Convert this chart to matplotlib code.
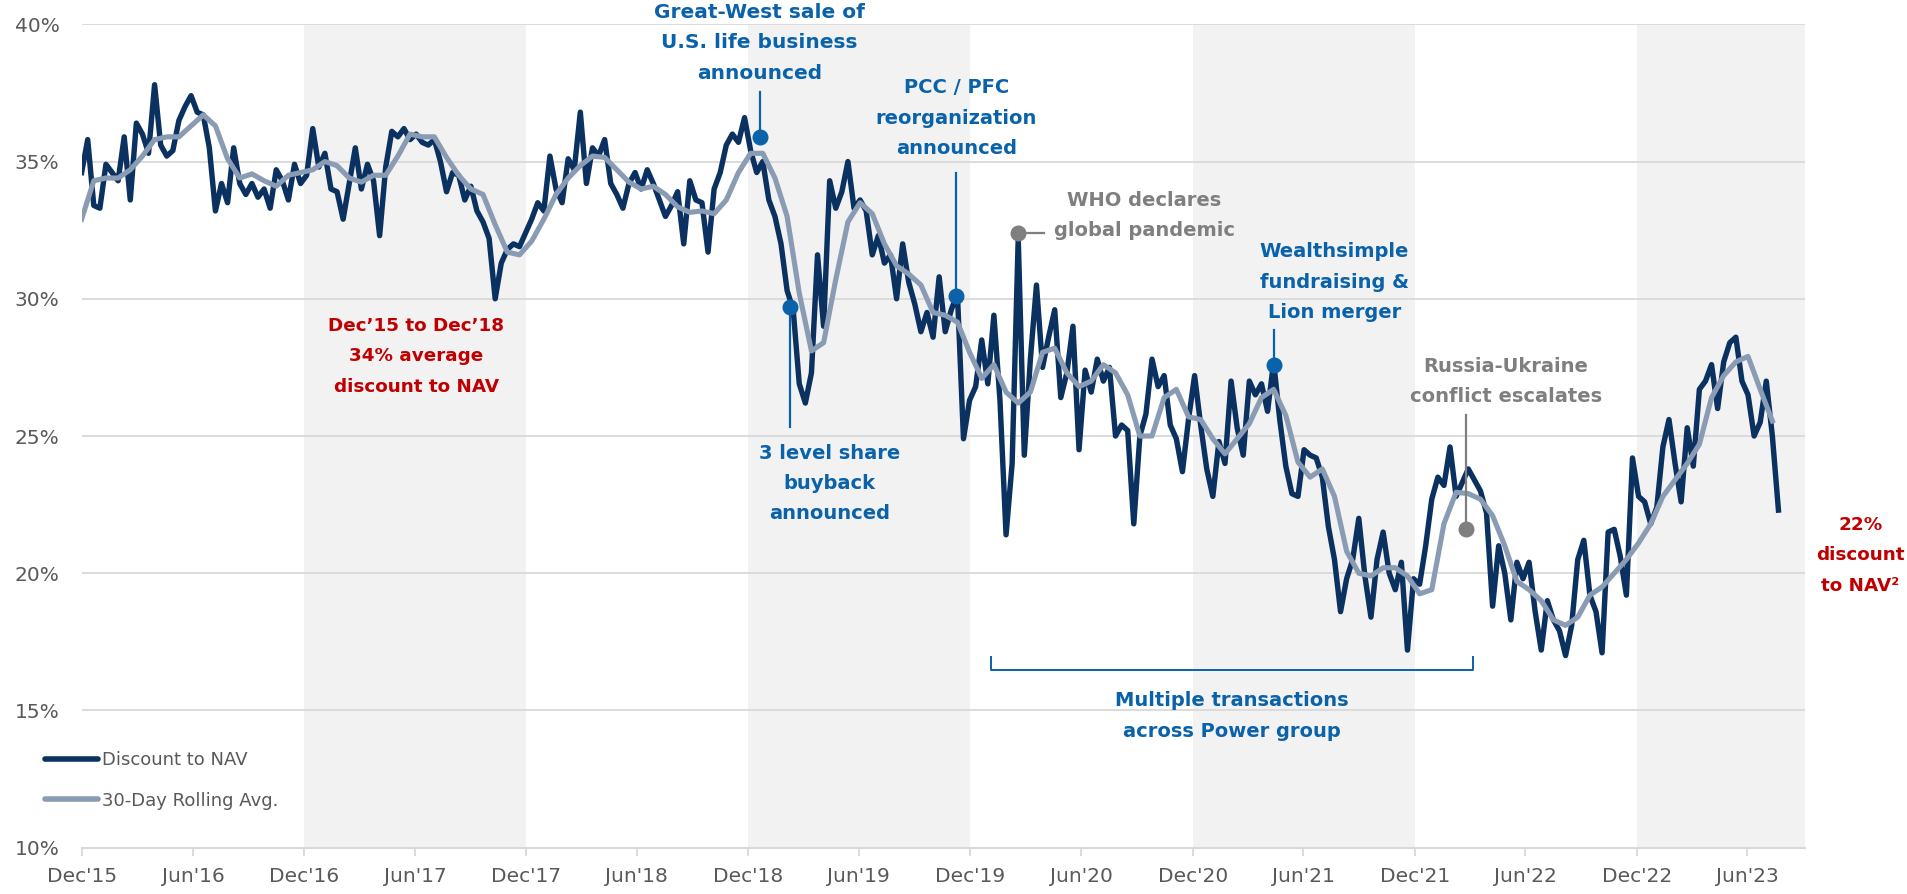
import numpy as np
import pandas as pd
import matplotlib
matplotlib.use("Agg")
import matplotlib.pyplot as plt
import matplotlib.dates as mdates
from matplotlib.lines import Line2D

plt.rcParams['font.family'] = ['DejaVu Sans']

# discount to NAV (%), one reading every 10 days from Dec 1 2015
dark = [34.6, 35.8, 33.4, 33.3, 34.9, 34.6, 34.3, 35.9, 33.6, 36.4,
        36.0, 35.3, 37.8, 35.6, 35.2, 35.4, 36.5, 37.0, 37.4, 36.8,
        36.7, 35.5, 33.2, 34.2, 33.5, 35.5, 34.2, 33.8, 34.2, 33.7,
        34.0, 33.3, 34.7, 34.3, 33.6, 34.9, 34.2, 34.5, 36.2, 34.8,
        35.3, 34.0, 33.9, 32.9, 34.2, 35.5, 34.0, 34.9, 34.3, 32.3,
        34.8, 36.1, 35.9, 36.2, 35.8, 36.0, 35.7, 35.6, 35.8, 35.0,
        33.9, 34.6, 34.5, 33.6, 34.1, 33.2, 32.8, 32.2, 30.0, 31.3,
        31.8, 32.0, 31.9, 32.4, 32.9, 33.5, 33.2, 35.2, 34.0, 33.5,
        35.1, 34.7, 36.8, 34.2, 35.5, 35.2, 35.8, 34.2, 33.8, 33.3,
        34.2, 34.6, 34.0, 34.7, 34.2, 33.6, 33.0, 33.4, 33.9, 32.0,
        34.3, 33.6, 33.5, 31.7, 34.0, 34.6, 35.6, 36.0, 35.7, 36.6,
        35.4, 34.6, 35.0, 33.6, 33.0, 32.0, 30.3, 29.6, 26.9, 26.2,
        27.3, 31.6, 29.0, 34.3, 33.3, 33.9, 35.0, 33.3, 33.6, 33.2,
        31.6, 32.3, 31.3, 31.6, 30.0, 32.0, 30.6, 29.8, 28.8, 29.5,
        28.6, 30.8, 28.8, 29.6, 30.2, 24.9, 26.3, 26.8, 28.5, 26.9,
        29.4, 26.3, 21.4, 24.0, 32.2, 24.3, 27.8, 30.5, 27.5, 28.6,
        29.6, 26.4, 27.3, 29.0, 24.5, 27.4, 26.6, 27.8, 27.0, 27.5,
        25.0, 25.4, 25.2, 21.8, 25.0, 25.8, 27.8, 26.8, 27.2, 25.4,
        24.9, 23.7, 25.6, 27.2, 25.4, 23.8, 22.8, 24.8, 24.0, 27.0,
        25.3, 24.3, 27.0, 26.5, 26.9, 25.9, 27.7, 25.6, 23.9, 22.9,
        22.8, 24.5, 24.3, 24.2, 23.5, 21.7, 20.5, 18.6, 19.8, 20.5,
        22.0, 19.9, 18.4, 20.5, 21.5, 20.0, 19.4, 20.4, 17.2, 19.8,
        19.6, 21.0, 22.7, 23.5, 23.2, 24.6, 22.8, 23.3, 23.8, 23.4,
        23.0, 22.2, 18.8, 21.0, 20.0, 18.3, 20.4, 19.8, 20.4, 18.6,
        17.2, 19.0, 18.3, 17.9, 17.0, 18.1, 20.5, 21.2, 19.2, 18.6,
        17.1, 21.5, 21.6, 20.6, 19.2, 24.2, 22.8, 22.6, 21.8, 22.4,
        24.6, 25.6, 24.0, 22.6, 25.3, 23.9, 26.7, 27.0, 27.6, 26.0,
        27.7, 28.4, 28.6, 27.0, 26.5, 25.0, 25.5, 27.0, 25.0, 22.3]

# 30-day rolling average (%), one reading every 20 days from Dec 1 2015
rolling = [32.9, 34.3, 34.4, 34.4, 34.7, 35.2, 35.8, 35.9, 35.9, 36.3,
           36.7, 36.3, 35.1, 34.4, 34.55, 34.3, 34.1, 34.5, 34.6, 34.7,
           35.0, 34.85, 34.4, 34.25, 34.5, 34.5, 35.2, 36.0, 35.9, 35.9,
           35.15, 34.5, 34.0, 33.8, 32.7, 31.7, 31.6, 32.1, 32.9, 33.8,
           34.4, 34.85, 35.2, 35.15, 34.7, 34.25, 34.0, 34.1, 33.8, 33.35,
           33.15, 33.2, 33.1, 33.6, 34.6, 35.3, 35.3, 34.4, 33.0, 30.2,
           28.1, 28.4, 30.7, 32.8, 33.5, 33.1, 32.0, 31.2, 30.9, 30.5,
           29.5, 29.4, 29.15, 28.05, 27.1, 27.6, 26.6, 26.2, 26.6, 28.05,
           28.2, 27.3, 26.8, 27.0, 27.6, 27.3, 26.5, 25.0, 25.0, 26.4,
           26.7, 25.7, 25.6, 24.9, 24.35, 24.9, 25.45, 26.4, 26.7, 25.75,
           24.05, 23.5, 23.8, 22.8, 20.8, 20.0, 19.9, 20.2, 20.2, 19.9,
           19.25, 19.4, 21.8, 22.95, 22.9, 22.7, 22.1, 21.0, 19.7, 19.4,
           19.0, 18.3, 18.1, 18.4, 19.2, 19.5, 20.0, 20.5, 21.1, 21.8,
           22.8, 23.4, 24.0, 24.7, 26.4, 27.2, 27.7, 27.9, 26.7, 25.55]

dark_dates = pd.date_range('2015-12-01', periods=len(dark), freq='10D')
roll_dates = pd.date_range('2015-12-01', periods=len(rolling), freq='20D')

shade_start = ['2016-12-01', '2018-12-01', '2020-12-01', '2022-12-01']
shade_end = ['2017-12-01', '2019-12-01', '2021-12-01', '2023-09-03']

# events: date, value on the chart
ev_gw = ('2018-12-20', 35.9)
ev_buy = ('2019-02-07', 29.7)
ev_pcc = ('2019-11-07', 30.1)
ev_who = ('2020-02-18', 32.4)
ev_ws = ('2021-04-13', 27.6)
ev_ru = ('2022-02-23', 21.6)

NAVY = '#0B3160'
SLATE = '#8A9BB4'
BLUE = '#0A62AA'
GREY = '#7F7F7F'
RED = '#C00000'
TXT = '#595959'

fig = plt.figure(figsize=(19.07, 8.94), dpi=100)
ax = fig.add_axes([0.0428, 0.0518, 0.9035, 0.921])

for s, e in zip(shade_start, shade_end):
    ax.axvspan(pd.Timestamp(s), pd.Timestamp(e), color='#F2F2F2', lw=0, zorder=0)

ax.plot(dark_dates, dark, color=NAVY, lw=3.9, zorder=3, solid_joinstyle='round')
ax.plot(roll_dates, rolling, color=SLATE, lw=3.7, zorder=4, solid_joinstyle='round')

ax.set_ylim(10, 40)
ax.set_xlim(pd.Timestamp('2015-12-01'), pd.Timestamp('2023-09-03'))
ax.set_yticks(range(10, 41, 5))
ax.set_yticklabels([f'{v}%' for v in range(10, 41, 5)])
ticks = pd.date_range('2015-12-01', '2023-06-01', freq='6MS')
ax.set_xticks(ticks)
ax.set_xticklabels([t.strftime("%b'%y") for t in ticks])

ax.set_axisbelow(True)
ax.yaxis.grid(True, color='#D9D9D9', lw=1.3)
for sp in ['top', 'right', 'left']:
    ax.spines[sp].set_visible(False)
ax.spines['bottom'].set_color('#D9D9D9')
ax.spines['bottom'].set_linewidth(1.5)
ax.tick_params(axis='x', direction='out', length=6, width=1.3, color='#D9D9D9',
               labelcolor=TXT, labelsize=14.5, pad=8)
ax.tick_params(axis='y', length=0, labelcolor=TXT, labelsize=14.5, pad=16)


def lines_text(x, y_top, lines, color, weight='bold', size=14, step=1.1):
    for i, ln in enumerate(lines):
        ax.text(pd.Timestamp(x), y_top - i * step, ln, color=color, fontsize=size,
                fontweight=weight, ha='center', va='center', zorder=6)


def stem(ev, y_end, color):
    d = pd.Timestamp(ev[0])
    ax.plot([d, d], [ev[1], y_end], color=color, lw=1.6, zorder=5)
    ax.plot([d], [ev[1]], 'o', color=color, ms=10.5, zorder=6)


# Great-West
stem(ev_gw, 37.55, BLUE)
lines_text(ev_gw[0], 40.42, ['Great-West sale of', 'U.S. life business', 'announced'], BLUE, size=14.5)
# PCC / PFC
stem(ev_pcc, 34.57, BLUE)
lines_text('2019-11-08', 37.68, ['PCC / PFC', 'reorganization', 'announced'], BLUE)
# buyback
stem(ev_buy, 25.32, BLUE)
lines_text('2019-04-14', 24.37, ['3 level share', 'buyback', 'announced'], BLUE)
# WHO
d = pd.Timestamp(ev_who[0])
ax.plot([d, pd.Timestamp('2020-03-31')], [ev_who[1], ev_who[1]], color=GREY, lw=1.6, zorder=5)
ax.plot([d], [ev_who[1]], 'o', color=GREY, ms=10.5, zorder=6)
lines_text('2020-09-12', 33.57, ['WHO declares', 'global pandemic'], GREY, weight='semibold')
# Wealthsimple
stem(ev_ws, 28.85, BLUE)
lines_text('2021-07-22', 31.71, ['Wealthsimple', 'fundraising &', 'Lion merger'], BLUE)
# Russia-Ukraine
stem(ev_ru, 25.76, GREY)
lines_text('2022-04-30', 27.55, ['Russia-Ukraine', 'conflict escalates'], GREY, weight='semibold')

# red callouts
lines_text('2017-06-03', 29.0, ['Dec’15 to Dec’18', '34% average', 'discount to NAV'], RED, size=13.2)
lines_text('2023-12-04', 21.75, ['22%', 'discount', 'to NAV²'], RED, size=13.2)

# bracket for transactions
b1, b2 = pd.Timestamp('2020-01-04'), pd.Timestamp('2022-03-06')
ax.plot([b1, b1, b2, b2], [16.93, 16.49, 16.49, 16.93], color=BLUE, lw=1.4, zorder=5)
lines_text('2021-02-03', 15.35, ['Multiple transactions', 'across Power group'], BLUE)

handles = [Line2D([0], [0], color=NAVY, lw=4, solid_capstyle='round'),
           Line2D([0], [0], color=SLATE, lw=4, solid_capstyle='round')]
leg = fig.legend(handles, ['Discount to NAV', '30-Day Rolling Avg.'], loc='upper left',
                 bbox_to_anchor=(0.019, 0.170), frameon=False, fontsize=13,
                 handlelength=2.9, handletextpad=0.25, labelspacing=1.25, borderpad=0)
for t in leg.get_texts():
    t.set_color(TXT)

fig.savefig('out.png', dpi=100)
